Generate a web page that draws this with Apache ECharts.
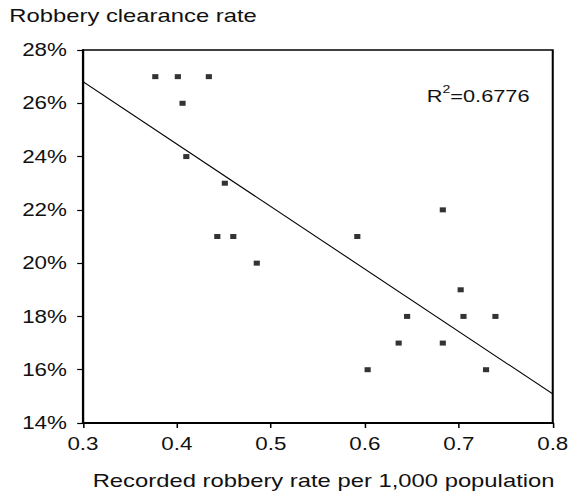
<!DOCTYPE html>
<html>
<head>
<meta charset="utf-8">
<script src="https://cdn.jsdelivr.net/npm/echarts@6/dist/echarts.min.js"></script>
<style>
html,body{margin:0;padding:0;background:#fff;overflow:hidden;}
#wrap{width:572px;height:500px;overflow:hidden;}
#chart{width:447px;height:500px;transform:scaleX(1.28);transform-origin:0 0;}
</style>
</head>
<body>
<div id="wrap"><div id="chart"></div></div>
<script>
// Recorded robbery rate per 1,000 population
const robberyRate = [0.377, 0.401, 0.434, 0.406, 0.410, 0.451, 0.443, 0.460, 0.485, 0.592,
                     0.683, 0.702, 0.645, 0.705, 0.739, 0.636, 0.683, 0.603, 0.729];
// Robbery clearance rate (%)
const clearanceRate = [27, 27, 27, 26, 24, 23, 21, 21, 20, 21,
                       22, 19, 18, 18, 18, 17, 17, 16, 16];
// Linear trend line as drawn (x, y%) at both ends of the x range
const trendX = [0.3, 0.8];
const trendY = [26.81, 15.09];
const rSquared = '0.6776';
const xTicks = [0.3, 0.4, 0.5, 0.6, 0.7, 0.8];
const yTicks = [14, 16, 18, 20, 22, 24, 26, 28];

const FONT = '"Liberation Sans", Arial, Helvetica, sans-serif';
const points = robberyRate.map((x, i) => [x, clearanceRate[i]]);
const trend = trendX.map((x, i) => [x, trendY[i]]);

const chart = echarts.init(document.getElementById('chart'), null, {renderer: 'svg'});
chart.setOption({
  animation: false,
  backgroundColor: '#fff',
  grid: {left: 64.8, right: 14.6, top: 50, bottom: 77, show: true,
         borderColor: '#000', borderWidth: 1.6, backgroundColor: 'transparent'},
  xAxis: {
    type: 'value', min: xTicks[0], max: xTicks[xTicks.length - 1], interval: 0.1,
    axisLine: {show: true, onZero: false, lineStyle: {color: '#000', width: 2}},
    axisTick: {show: true, length: 5, lineStyle: {color: '#000', width: 1.2}},
    splitLine: {show: false},
    axisLabel: {color: '#111', fontFamily: FONT, fontSize: 17.5, margin: 12,
                formatter: v => v.toFixed(1)}
  },
  yAxis: {
    type: 'value', min: yTicks[0], max: yTicks[yTicks.length - 1], interval: 2,
    axisLine: {show: true, onZero: false, lineStyle: {color: '#000', width: 1.6}},
    axisTick: {show: true, length: 4.5, lineStyle: {color: '#000', width: 1.2}},
    splitLine: {show: false},
    axisLabel: {color: '#111', fontFamily: FONT, fontSize: 17.5, margin: 12.5,
                formatter: v => v + '%'}
  },
  graphic: [
    {type: 'text', left: 7.3, top: 6,
     style: {text: 'Robbery clearance rate', fill: '#111', fontFamily: FONT, fontSize: 18.6}},
    {type: 'text', left: 72.4, top: 471,
     style: {text: 'Recorded robbery rate per 1,000 population', fill: '#111', fontFamily: FONT, fontSize: 18.6}},
    {type: 'text', left: 333.4, top: 84,
     style: {text: '{b|R}{s|2}{b|=' + rSquared + '}', fill: '#111',
             rich: {b: {fontFamily: FONT, fontSize: 17, fill: '#111', verticalAlign: 'bottom', lineHeight: 20},
                    s: {fontFamily: FONT, fontSize: 11, fill: '#111', verticalAlign: 'top', lineHeight: 20, padding: [0, 0, 8, 0]}}}}
  ],
  series: [
    {type: 'scatter', data: points, symbol: 'rect', symbolSize: [4.8, 5],
     itemStyle: {color: '#000'}, silent: true, z: 3},
    {type: 'line', data: trend, symbol: 'none', silent: true, z: 2,
     lineStyle: {color: '#000', width: 1}}
  ]
});
</script>
</body>
</html>
